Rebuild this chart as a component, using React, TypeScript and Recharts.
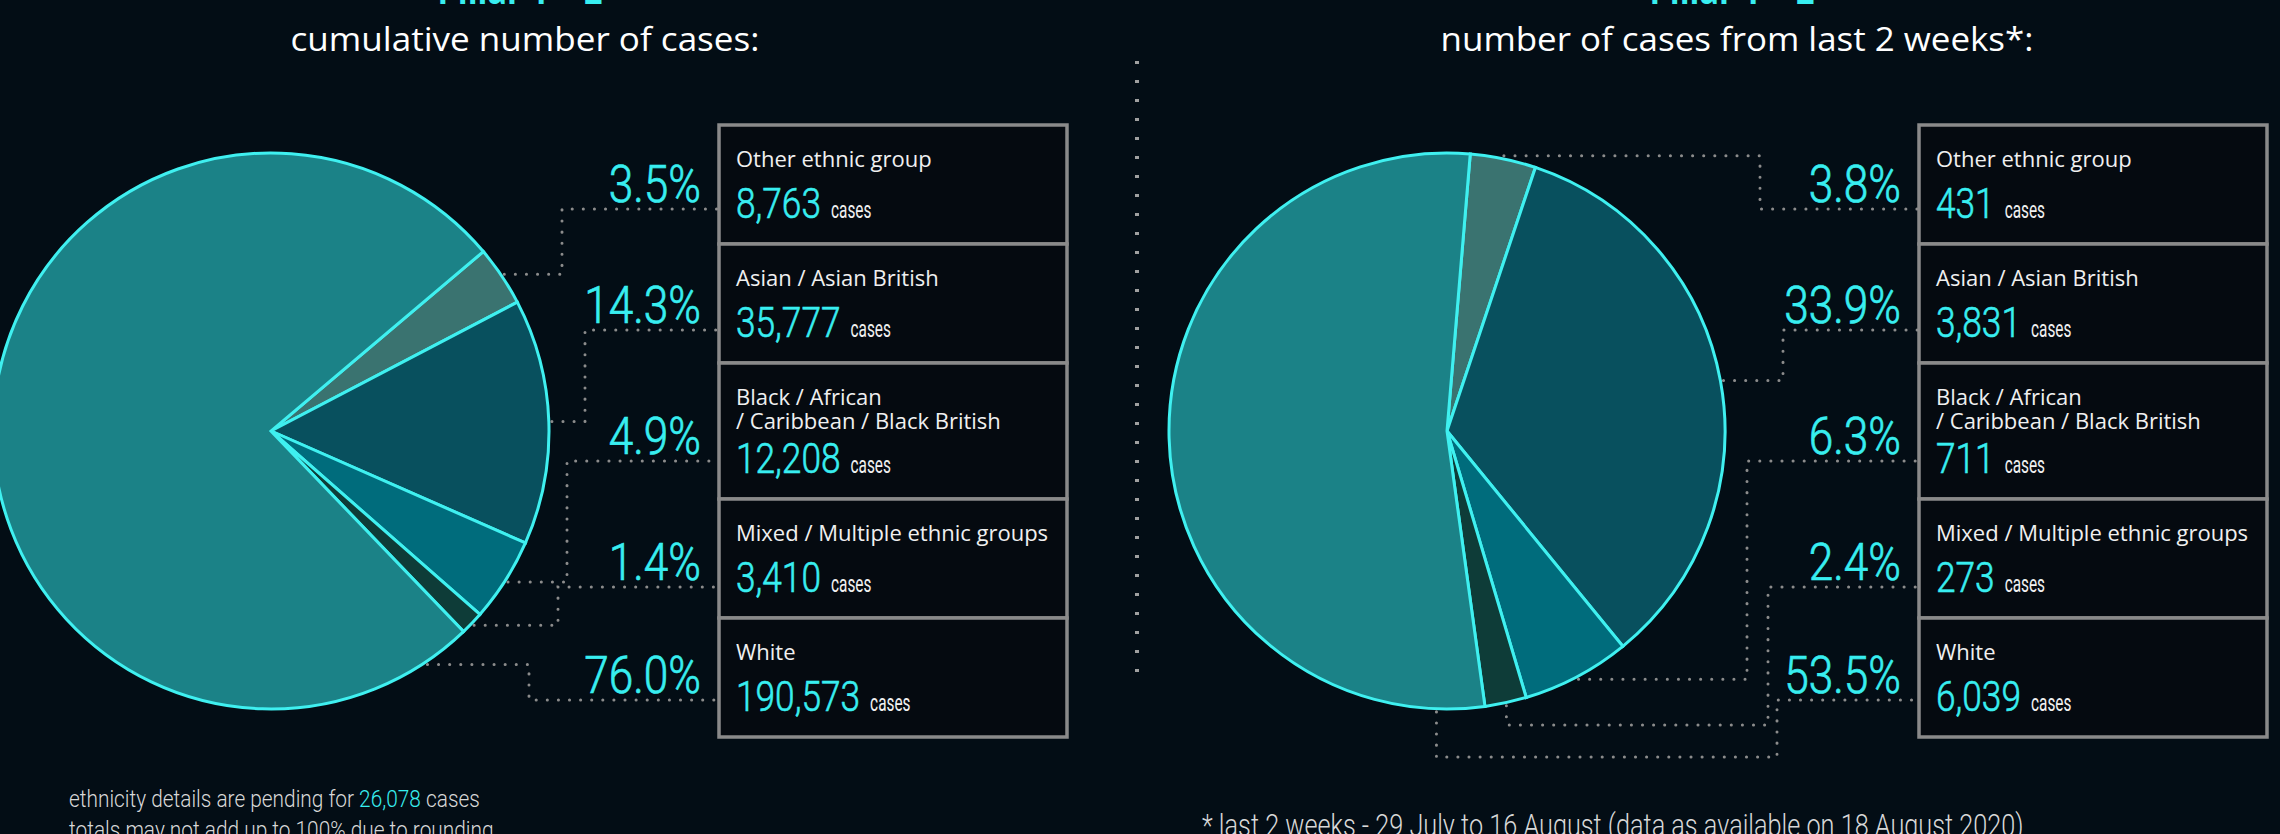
import React from 'react';
import { PieChart, Pie, Cell } from 'recharts';

// Categories in the order they appear in the boxes (and clockwise round the pie)
const categories = [
  'Other ethnic group',
  'Asian / Asian British',
  'Black / African / Caribbean / Black British',
  'Mixed / Multiple ethnic groups',
  'White',
];
// How each category name is broken over lines in its box
const categoryLines = [
  ['Other ethnic group'],
  ['Asian / Asian British'],
  ['Black / African', '/ Caribbean / Black British'],
  ['Mixed / Multiple ethnic groups'],
  ['White'],
];
const cumulativeCases = [8763, 35777, 12208, 3410, 190573];
const recentCases = [431, 3831, 711, 273, 6039];
const pendingCases = 26078;

const pillarLabel = 'Pillar 1 + 2';
const titles = ['cumulative number of cases:', 'number of cases from last 2 weeks*:'];
const footLeft1 = ['ethnicity details are pending for ', ' cases'];
const footLeft2 = 'totals may not add up to 100% due to rounding';
const footRight = '* last 2 weeks - 29 July to 16 August (data as available on 18 August 2020)';

// styles
const W = 2280;
const H = 834;
const BG = '#030d15';
const CYAN = '#38eef0';
const STROKE = '#3ff0f0';
const DOTS = '#8c8c8c';
const SLICE_COLORS = ['#3a7370', '#08505e', '#006c7c', '#0e3c38', '#1b8287'];

// layout
const PIE_R = 278;
const PIE_CY = 431;
const BOX_TOP = 125;
const BOX_W = 348;
const ROW_H = 119;
const LINE_H = 17;
const LEADER_Y = [209, 330, 461, 587, 700];

type PanelLayout = {
  cx: number;
  startAngle: number;
  boxX: number;
  pctRight: number;
  elbowX: number[];
  dropY: (number | null)[];
  titleX: number;
  titleW: number;
  pillarX: number;
};

const panels: PanelLayout[] = [
  {
    cx: 271,
    startAngle: 40.2,
    boxX: 719,
    pctRight: 701,
    elbowX: [562, 585, 567, 558, 529],
    dropY: [null, null, null, null, null],
    titleX: 525,
    titleW: 469,
    pillarX: 520,
  },
  {
    cx: 1447,
    startAngle: 85.2,
    boxX: 1919,
    pctRight: 1901,
    elbowX: [1760, 1783, 1747, 1768, 1777],
    dropY: [null, null, null, 725, 757],
    titleX: 1737,
    titleW: 593,
    pillarX: 1732,
  },
];

let ctx: CanvasRenderingContext2D | null = null;
function measure(text: string, font: string) {
  if (!ctx) ctx = document.createElement('canvas').getContext('2d');
  if (!ctx) return text.length * 10;
  ctx.font = font;
  return ctx.measureText(text).width;
}

const RAD = Math.PI / 180;

function makeLabel(p: PanelLayout, total: number) {
  return (props: any) => {
    const { cx, cy, midAngle, startAngle, endAngle, index, value } = props;
    const span = endAngle - startAngle;
    const dir = Math.sign(span) || -1;
    // big slices get their leader near their first edge, like the original
    const a = Math.abs(span) > 180 ? startAngle + dir * 10 : midAngle;
    const r = PIE_R + 3;
    const px = cx + r * Math.cos(a * RAD);
    const py = cy - r * Math.sin(a * RAD);
    const ly = LEADER_Y[index];
    const ex = p.elbowX[index];
    const drop = p.dropY[index];
    const pts =
      drop != null
        ? [[px, py], [px, drop], [ex, drop], [ex, ly], [p.boxX, ly]]
        : [[px, py], [ex, py], [ex, ly], [p.boxX, ly]];
    const pct = ((value / total) * 100).toFixed(1) + '%';
    return (
      <g key={`lbl-${index}`}>
        <polyline
          points={pts.map(q => q.join(',')).join(' ')}
          fill="none"
          stroke={DOTS}
          strokeWidth={3}
          strokeDasharray="0.1 11"
          strokeLinecap="round"
        />
        <text
          transform={`translate(${p.pctRight},${ly - 7}) scale(0.85,1)`}
          textAnchor="end"
          fontFamily="Roboto"
          fontWeight={300}
          fontSize={52}
          fill={CYAN}
          stroke={CYAN}
          strokeWidth={0.7}
        >
          {pct}
        </text>
      </g>
    );
  };
}

function CondensedText({ x, y, size, scale, fill, weight = 300, anchor = 'start', bold = 0, children }: any) {
  return (
    <text
      transform={`translate(${x},${y}) scale(${scale},1)`}
      textAnchor={anchor}
      fontFamily="Roboto"
      fontWeight={weight}
      fontSize={size}
      fill={fill}
      stroke={bold ? fill : 'none'}
      strokeWidth={bold}
    >
      {children}
    </text>
  );
}

function Boxes({ p, counts }: { p: PanelLayout; counts: number[] }) {
  let top = BOX_TOP;
  return (
    <g>
      {categoryLines.map((lines, i) => {
        const h = ROW_H + LINE_H * (lines.length - 1);
        const y0 = top;
        top += h;
        const numStr = counts[i].toLocaleString('en-GB');
        const numBase = y0 + 93 + LINE_H * (lines.length - 1);
        const numW = measure(numStr, '300 43px Roboto') * 0.82;
        return (
          <g key={categories[i]}>
            <rect x={p.boxX} y={y0} width={BOX_W} height={h} fill="#050a10" stroke="#8a8a8a" strokeWidth={3.5} />
            {lines.map((ln, j) => (
              <text
                key={ln}
                x={p.boxX + 17}
                y={y0 + 42 + j * 24}
                fontFamily="'Open Sans', 'Noto Sans', sans-serif"
                fontSize={22}
                fill="#f0f0f0"
              >
                {ln}
              </text>
            ))}
            <CondensedText x={p.boxX + 17} y={numBase} size={43} scale={0.82} bold={0.6} fill={CYAN}>
              {numStr}
            </CondensedText>
            <CondensedText x={p.boxX + 17 + numW + 10} y={numBase} size={24} scale={0.64} weight={400} fill="#f0f0f0">
              cases
            </CondensedText>
          </g>
        );
      })}
    </g>
  );
}

export default function App() {
  const leftData = categories.map((name, i) => ({ name, value: cumulativeCases[i] }));
  const rightData = categories.map((name, i) => ({ name, value: recentCases[i] }));
  const leftTotal = cumulativeCases.reduce((a, b) => a + b, 0);
  const rightTotal = recentCases.reduce((a, b) => a + b, 0);

  const titleFont = '400 32px "Open Sans"';
  const foot1 = footLeft1[0] + pendingCases.toLocaleString('en-GB') + footLeft1[1];
  const footScale1 = 411 / measure(foot1, '300 24px Roboto');
  const footScaleR = 822 / measure(footRight, '300 31px Roboto');
  const pillarScale = 165 / measure(pillarLabel, '700 38px "Open Sans"');

  return (
    <div style={{ position: 'absolute', left: 0, top: 0, width: W, height: H, background: BG, overflow: 'hidden' }}>
      <svg width={W} height={H} style={{ position: 'absolute', left: 0, top: 0 }}>
        {panels.map((p, k) => {
          const ts = p.titleW / measure(titles[k], titleFont);
          return (
            <g key={titles[k]}>
              <text
                transform={`translate(${p.pillarX},4) scale(${pillarScale},1)`}
                textAnchor="middle"
                fontFamily="'Open Sans', sans-serif"
                fontWeight={700}
                fontSize={38}
                fill={CYAN}
              >
                {pillarLabel}
              </text>
              <text
                transform={`translate(${p.titleX},51) scale(${ts},1)`}
                textAnchor="middle"
                fontFamily="'Open Sans', sans-serif"
                fontSize={32}
                fill="#ffffff"
              >
                {titles[k]}
              </text>
              <Boxes p={p} counts={k === 0 ? cumulativeCases : recentCases} />
            </g>
          );
        })}
        <line x1={1137} y1={61} x2={1137} y2={680} stroke="#a0a0a0" strokeWidth={4} strokeDasharray="3 16" />
        <CondensedText x={69} y={807} size={24} scale={footScale1} fill="#d8d8d8">
          <tspan>{footLeft1[0]}</tspan>
          <tspan fill={CYAN}>{pendingCases.toLocaleString('en-GB')}</tspan>
          <tspan>{footLeft1[1]}</tspan>
        </CondensedText>
        <CondensedText x={69} y={838} size={24} scale={footScale1} fill="#d8d8d8">
          {footLeft2}
        </CondensedText>
        <CondensedText x={1202} y={836} size={31} scale={footScaleR} fill="#d8d8d8">
          {footRight}
        </CondensedText>
      </svg>
      <div style={{ position: 'absolute', left: 0, top: 0 }}>
        <PieChart width={W} height={H} margin={{ top: 0, right: 0, bottom: 0, left: 0 }}>
          <Pie
            data={leftData}
            dataKey="value"
            nameKey="name"
            cx={panels[0].cx}
            cy={PIE_CY}
            outerRadius={PIE_R}
            startAngle={panels[0].startAngle}
            endAngle={panels[0].startAngle - 360}
            stroke={STROKE}
            strokeWidth={3}
            isAnimationActive={false}
            labelLine={false}
            label={makeLabel(panels[0], leftTotal)}
          >
            {leftData.map((d, i) => (
              <Cell key={d.name} fill={SLICE_COLORS[i]} />
            ))}
          </Pie>
          <Pie
            data={rightData}
            dataKey="value"
            nameKey="name"
            cx={panels[1].cx}
            cy={PIE_CY}
            outerRadius={PIE_R}
            startAngle={panels[1].startAngle}
            endAngle={panels[1].startAngle - 360}
            stroke={STROKE}
            strokeWidth={3}
            isAnimationActive={false}
            labelLine={false}
            label={makeLabel(panels[1], rightTotal)}
          >
            {rightData.map((d, i) => (
              <Cell key={d.name} fill={SLICE_COLORS[i]} />
            ))}
          </Pie>
        </PieChart>
      </div>
    </div>
  );
}
